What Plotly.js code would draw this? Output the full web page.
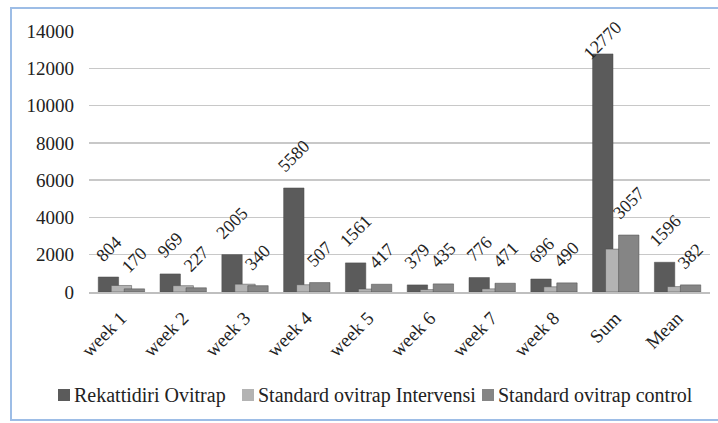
<!DOCTYPE html>
<html><head><meta charset="utf-8">
<script src="https://cdn.plot.ly/plotly-3.0.1.min.js"></script>
<style>
html,body{margin:0;padding:0;background:#fff;overflow:hidden;}
#frame{position:absolute;left:10px;top:7px;width:720px;height:414px;border:2px solid #9dbde6;box-sizing:border-box;}
#chart{position:absolute;left:0;top:0;width:718px;height:423px;}
</style></head>
<body>
<div id="frame"></div>
<div id="chart"></div>
<script>
const categories = ["week 1","week 2","week 3","week 4","week 5","week 6","week 7","week 8","Sum","Mean"];
const rekattidiri = [804, 969, 2005, 5580, 1561, 379, 776, 696, 12770, 1596];
const intervensi = [350, 340, 420, 390, 160, 130, 170, 280, 2300, 290];
const control = [170, 227, 340, 507, 417, 435, 471, 490, 3057, 382];
const seriesNames = ["Rekattidiri Ovitrap", "Standard ovitrap Intervensi", "Standard ovitrap control"];
const yMax = 14000;

const font = "Liberation Serif, Times New Roman, serif";
const offs = [-0.37, -0.16, 0.05];
const w = 0.33;
const colors = ["#5b5b5b", "#b3b3b3", "#858585"];
const series = [rekattidiri, intervensi, control];

const M = {l: 89, r: 8, t: 31, b: 131};
const W = 718, H = 423;
const pw = W - M.l - M.r, ph = H - M.t - M.b;
const px2x = px => (px - M.l) / pw;
const py2y = py => (H - M.b - py) / ph;

const traces = series.map((s, i) => ({
  type: "bar", x: categories, y: s, name: seriesNames[i],
  offset: offs[i], width: w,
  marker: {color: colors[i], line: {color: "#4a4a4a", width: 0.5}},
  hoverinfo: "skip"
}));

const annotations = [];
[0, 2].forEach(si => {
  series[si].forEach((v, ci) => {
    const barTop = M.t + ph * (1 - v / yMax);
    annotations.push({
      x: ci + offs[si] + w / 2, y: v, xref: "x", yref: "y",
      text: String(v), showarrow: false, textangle: -45,
      xanchor: "center", yanchor: "bottom", yshift: Math.min(9, barTop - 66),
      font: {family: font, size: 18, color: "#222"}
    });
  });
});

// legend (drawn as shapes + annotations)
const legX = [58, 242, 482];
const legY = 395;
const shapes = [];
seriesNames.forEach((n, i) => {
  shapes.push({type: "rect", xref: "paper", yref: "paper",
    x0: px2x(legX[i]), x1: px2x(legX[i] + 12), y0: py2y(legY + 6), y1: py2y(legY - 6),
    fillcolor: colors[i], line: {width: 0}});
  annotations.push({xref: "paper", yref: "paper", x: px2x(legX[i] + 14), y: py2y(legY),
    xanchor: "left", yanchor: "middle", showarrow: false, text: n,
    font: {family: font, size: 20, color: "#222"}});
});

const layout = {
  width: W, height: H,
  margin: M,
  paper_bgcolor: "rgba(0,0,0,0)", plot_bgcolor: "rgba(0,0,0,0)",
  barmode: "overlay",
  showlegend: false,
  xaxis: {type: "category", tickangle: -45, showgrid: false, showline: true,
    linecolor: "#bfbfbf", linewidth: 1.5, ticks: "", ticklabelstandoff: 6,
    tickfont: {family: font, size: 19, color: "#222"}},
  yaxis: {range: [0, yMax], dtick: 2000, tickformat: "d", showgrid: true, gridcolor: "#c8c8c8", gridwidth: 1.5,
    zeroline: false, showline: false, ticks: "", ticklabelstandoff: 14,
    tickfont: {family: font, size: 19, color: "#222"}},
  annotations: annotations,
  shapes: shapes,
  font: {family: font}
};

Plotly.newPlot("chart", traces, layout, {displayModeBar: false, staticPlot: true});
</script>
</body></html>
